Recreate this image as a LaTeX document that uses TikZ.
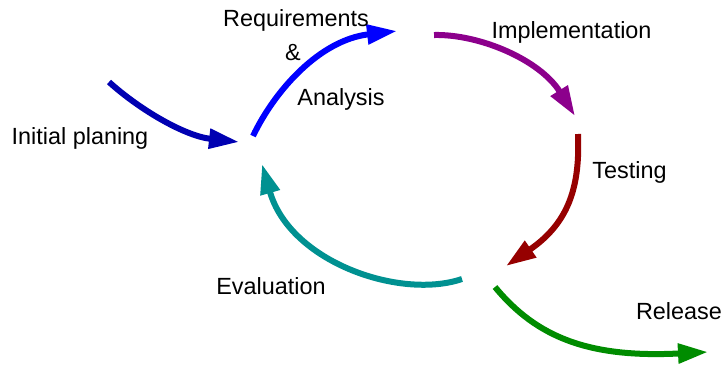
\documentclass[tikz,border=0pt]{standalone}
\usepackage{fontspec}
\setmainfont{Liberation Sans}
\usetikzlibrary{arrows.meta}
\definecolor{cInit}{RGB}{0,0,178}
\definecolor{cReq}{RGB}{0,0,255}
\definecolor{cImpl}{RGB}{140,0,140}
\definecolor{cTest}{RGB}{150,0,0}
\definecolor{cEval}{RGB}{0,145,145}
\definecolor{cRel}{RGB}{0,140,0}
\tikzset{
  flow/.style={line width=6pt, -{Triangle[length=30pt,width=19pt]}},
  lbl/.style={font=\fontsize{23.4}{28}\selectfont, anchor=base, inner sep=0pt}
}
\begin{document}
\begin{tikzpicture}[x=1pt,y=-1pt]
\useasboundingbox (0,0) rectangle (723,365);
% endpoints
\coordinate (i0) at (109,82);   \coordinate (i1) at (239,142);
\coordinate (r0) at (253,136);  \coordinate (r1) at (397,31);
\coordinate (p0) at (434,35);   \coordinate (p1) at (575,116);
\coordinate (t0) at (578,134);  \coordinate (t1) at (506,266);
\coordinate (e0) at (462,279);  \coordinate (e1) at (262,164);
\coordinate (g0) at (495,287);  \coordinate (g1) at (708,352);
% arrows
\draw[flow, cInit] (i0) .. controls (140,110) and (185,136) .. (i1);
\draw[flow, cReq] (r0) .. controls (275,90) and (320,40) .. (r1);
\draw[flow, cImpl] (p0) .. controls (480,34) and (540,60) .. (p1);
\draw[flow, cTest] (t0) .. controls (580,185) and (570,222) .. (t1);
\draw[flow, cEval] (e0) .. controls (400,300) and (290,262) .. (e1);
\draw[flow, cRel] (g0) .. controls (537,338) and (590,358) .. (g1);
% labels
\node[lbl] (linit) at (80,144) {Initial planing};
\node[lbl] (lreq) at (296,26) {Requirements};
\node[lbl] (land) at (293,60) {\&};
\node[lbl] (lana) at (341,105) {Analysis};
\node[lbl] (limp) at (571.5,38) {Implementation};
\node[lbl] (ltest) at (629.5,178) {Testing};
\node[lbl] (leval) at (271,294) {Evaluation};
\node[lbl] (lrel) at (679,319) {Release};
\end{tikzpicture}
\end{document}
